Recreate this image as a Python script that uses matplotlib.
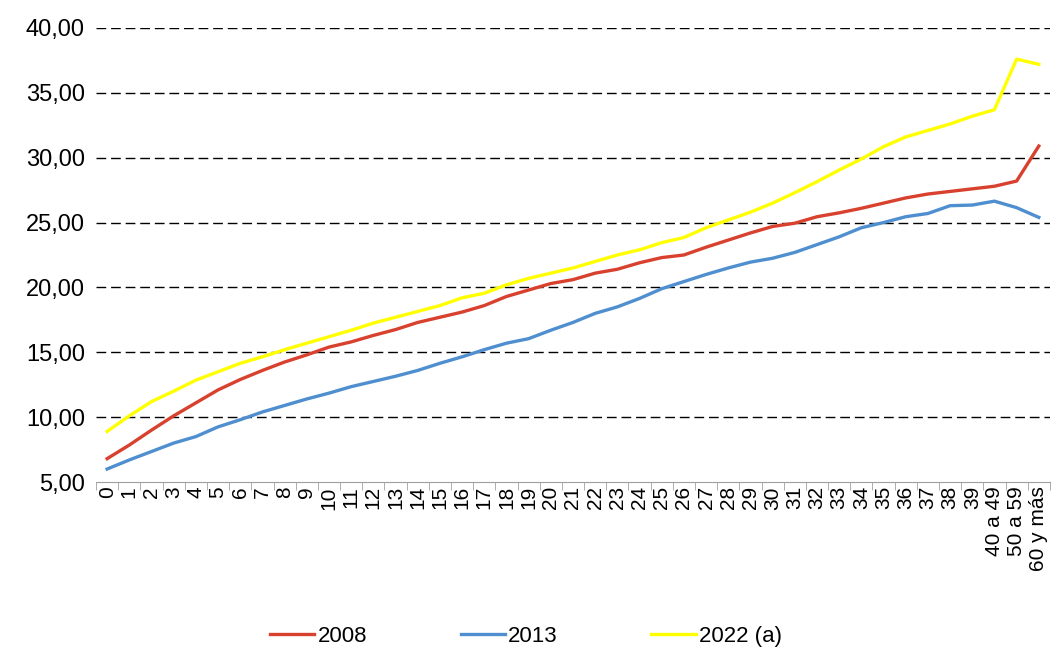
import matplotlib.pyplot as plt
import numpy as np

plt.rcParams['font.family'] = ['Liberation Sans', 'DejaVu Sans']

# Categorías (edad)
edades = [str(i) for i in range(40)] + ["40 a 49", "50 a 59", "60 y más"]

# Series
serie_2008 = [6.8, 7.85, 9.0, 10.1, 11.1, 12.1, 12.9, 13.6, 14.25, 14.8,
              15.4, 15.8, 16.3, 16.75, 17.3, 17.7, 18.1, 18.6, 19.3, 19.8,
              20.3, 20.6, 21.1, 21.4, 21.9, 22.3, 22.5, 23.1, 23.65, 24.2,
              24.7, 24.95, 25.45, 25.75, 26.1, 26.5, 26.9, 27.2, 27.4, 27.6,
              27.8, 28.2, 30.9]
serie_2013 = [6.0, 6.7, 7.35, 8.0, 8.5, 9.25, 9.8, 10.4, 10.9, 11.4,
              11.85, 12.35, 12.75, 13.15, 13.6, 14.15, 14.65, 15.2, 15.7, 16.05,
              16.7, 17.3, 18.0, 18.5, 19.15, 19.9, 20.45, 21.0, 21.5, 21.95,
              22.25, 22.7, 23.3, 23.9, 24.6, 25.0, 25.45, 25.7, 26.3, 26.35,
              26.65, 26.15, 25.4]
serie_2022 = [8.9, 10.1, 11.2, 12.0, 12.85, 13.5, 14.15, 14.65, 15.2, 15.7,
              16.2, 16.7, 17.25, 17.7, 18.15, 18.6, 19.2, 19.55, 20.2, 20.7,
              21.1, 21.5, 22.0, 22.5, 22.9, 23.45, 23.85, 24.6, 25.2, 25.8,
              26.5, 27.3, 28.15, 29.05, 29.9, 30.85, 31.6, 32.1, 32.6, 33.2,
              33.7, 37.6, 37.2]

series = [("2008", serie_2008, "#D9412F"),
          ("2013", serie_2013, "#4F8FD0"),
          ("2022 (a)", serie_2022, "#FFFF00")]

fig = plt.figure(figsize=(10.52, 6.51), dpi=100)
ax = fig.add_axes([0.0913, 0.2596, 0.9067, 0.6974])

x = np.arange(len(edades))
for nombre, valores, color in series:
    ax.plot(x, valores, color=color, linewidth=2.4, label=nombre)

ax.set_ylim(5, 40)
ax.set_xlim(-0.5, len(edades) - 0.5)
ax.set_yticks(np.arange(5, 41, 5))
ax.set_yticklabels([f"{v:.2f}".replace(".", ",") for v in np.arange(5, 41, 5)],
                   fontsize=17)
for v in range(10, 41, 5):
    ax.axhline(v, color="black", linestyle=(0, (7, 3.5)), linewidth=1, zorder=0)

# ticks del eje x entre categorías
ax.set_xticks(x)
ax.set_xticklabels(edades, rotation=90, fontsize=15)
ax.set_xticks(np.arange(-0.5, len(edades), 1), minor=True)
ax.tick_params(axis="x", which="major", length=0, pad=3)
ax.tick_params(axis="x", which="minor", length=6, color="#A0A0A0")
ax.tick_params(axis="y", length=0, pad=8)

for s in ["top", "right", "left"]:
    ax.spines[s].set_visible(False)
ax.spines["bottom"].set_color("#A0A0A0")

fig.legend(loc="lower center", bbox_to_anchor=(0.5, -0.025), ncol=3, frameon=False,
           fontsize=16, handlelength=2.0, columnspacing=4.2, handletextpad=0.15)

fig.savefig("out.png", dpi=100)
